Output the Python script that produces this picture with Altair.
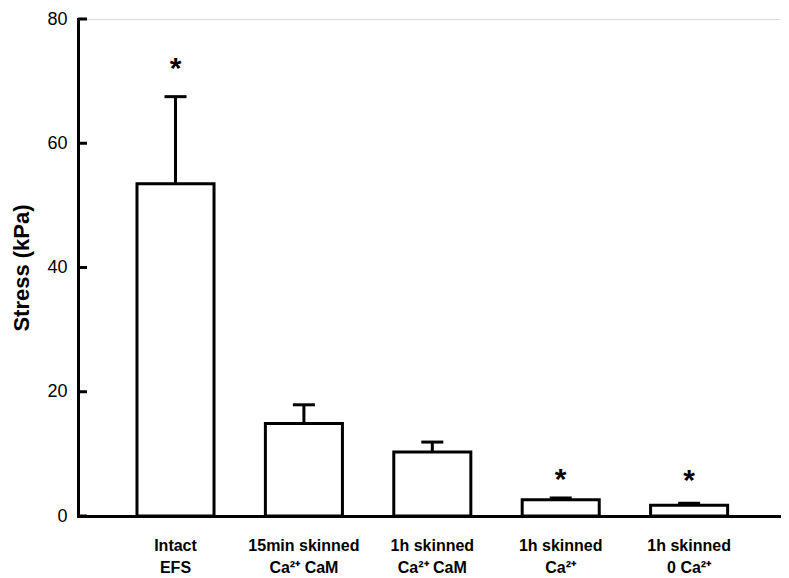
import altair as alt
import pandas as pd

categories = ["Intact\nEFS", "15min skinned\nCa²⁺ CaM", "1h skinned\nCa²⁺ CaM",
              "1h skinned\nCa²⁺", "1h skinned\n0 Ca²⁺"]
means = [53.5, 14.9, 10.3, 2.6, 1.75]
errors = [14.0, 3.0, 1.6, 0.3, 0.3]
stars = ["*", "", "", "*", "*"]
star_y = [72.6, 0, 0, 6.5, 6.2]
y_ticks = [0, 20, 40, 60, 80]

df = pd.DataFrame({
    "cat": categories,
    "mean": means,
    "upper": [m + e for m, e in zip(means, errors)],
    "star": stars,
    "star_y": star_y,
})
tick_df = pd.DataFrame({"v": y_ticks})

FONT = "Liberation Sans"

x_scale = alt.Scale(paddingInner=0.4, paddingOuter=0.4375, align=0.525)
x_enc = alt.X("cat:N", sort=categories, scale=x_scale, title=None,
              axis=alt.Axis(labelExpr="split(datum.label, '\\n')", labelAngle=0,
                            ticks=False, labelPadding=29, labelFontSize=16,
                            labelFontWeight="bold", labelLineHeight=22,
                            labelFont=FONT, labelColor="black",
                            domainColor="black", domainWidth=3, domainCap="square",
                            labelBaseline="middle"))
y_scale = alt.Scale(domain=[0, 80], nice=False, zero=True)
y_enc = alt.Y("mean:Q", scale=y_scale, title="Stress (kPa)",
              axis=alt.Axis(values=y_ticks, ticks=False, grid=False, labelPadding=11,
                            labelFontSize=18, labelFont=FONT, labelColor="black",
                            titleFont=FONT, titleFontSize=22, titleFontWeight="bold",
                            titleColor="black", titlePadding=13,
                            domainColor="black", domainWidth=3, domainCap="square"))

base = alt.Chart(df)

bars = base.mark_bar(fill="white", stroke="black", strokeWidth=3).encode(x=x_enc, y=y_enc)

err_line = base.mark_rule(color="black", strokeWidth=3).encode(
    x=alt.X("cat:N", sort=categories, scale=x_scale),
    y=alt.Y("mean:Q", scale=y_scale),
    y2="upper:Q",
)
err_cap = base.mark_tick(color="black", size=22, thickness=3, orient="horizontal", opacity=1).encode(
    x=alt.X("cat:N", sort=categories, scale=x_scale),
    y=alt.Y("upper:Q", scale=y_scale),
)
star_text = base.transform_filter("datum.star != ''").mark_text(
    fontSize=30, fontWeight="bold", font=FONT, color="black", baseline="alphabetic", dy=13
).encode(
    x=alt.X("cat:N", sort=categories, scale=x_scale),
    y=alt.Y("star_y:Q", scale=y_scale),
    text="star:N",
)
y_tick_rules = alt.Chart(tick_df).mark_rule(color="black", strokeWidth=3).encode(
    y=alt.Y("v:Q", scale=y_scale),
    x=alt.value(0),
    x2=alt.value(9),
)

chart = alt.layer(bars, err_line, err_cap, star_text, y_tick_rules).properties(
    width=703, height=497,
    autosize=alt.AutoSizeParams(type="none"),
    padding={"left": 70, "top": 11, "right": 0, "bottom": 60},
).configure_view(stroke=None).configure(background="white")

chart.save("out.html", embed_options={"renderer": "svg", "actions": False})
